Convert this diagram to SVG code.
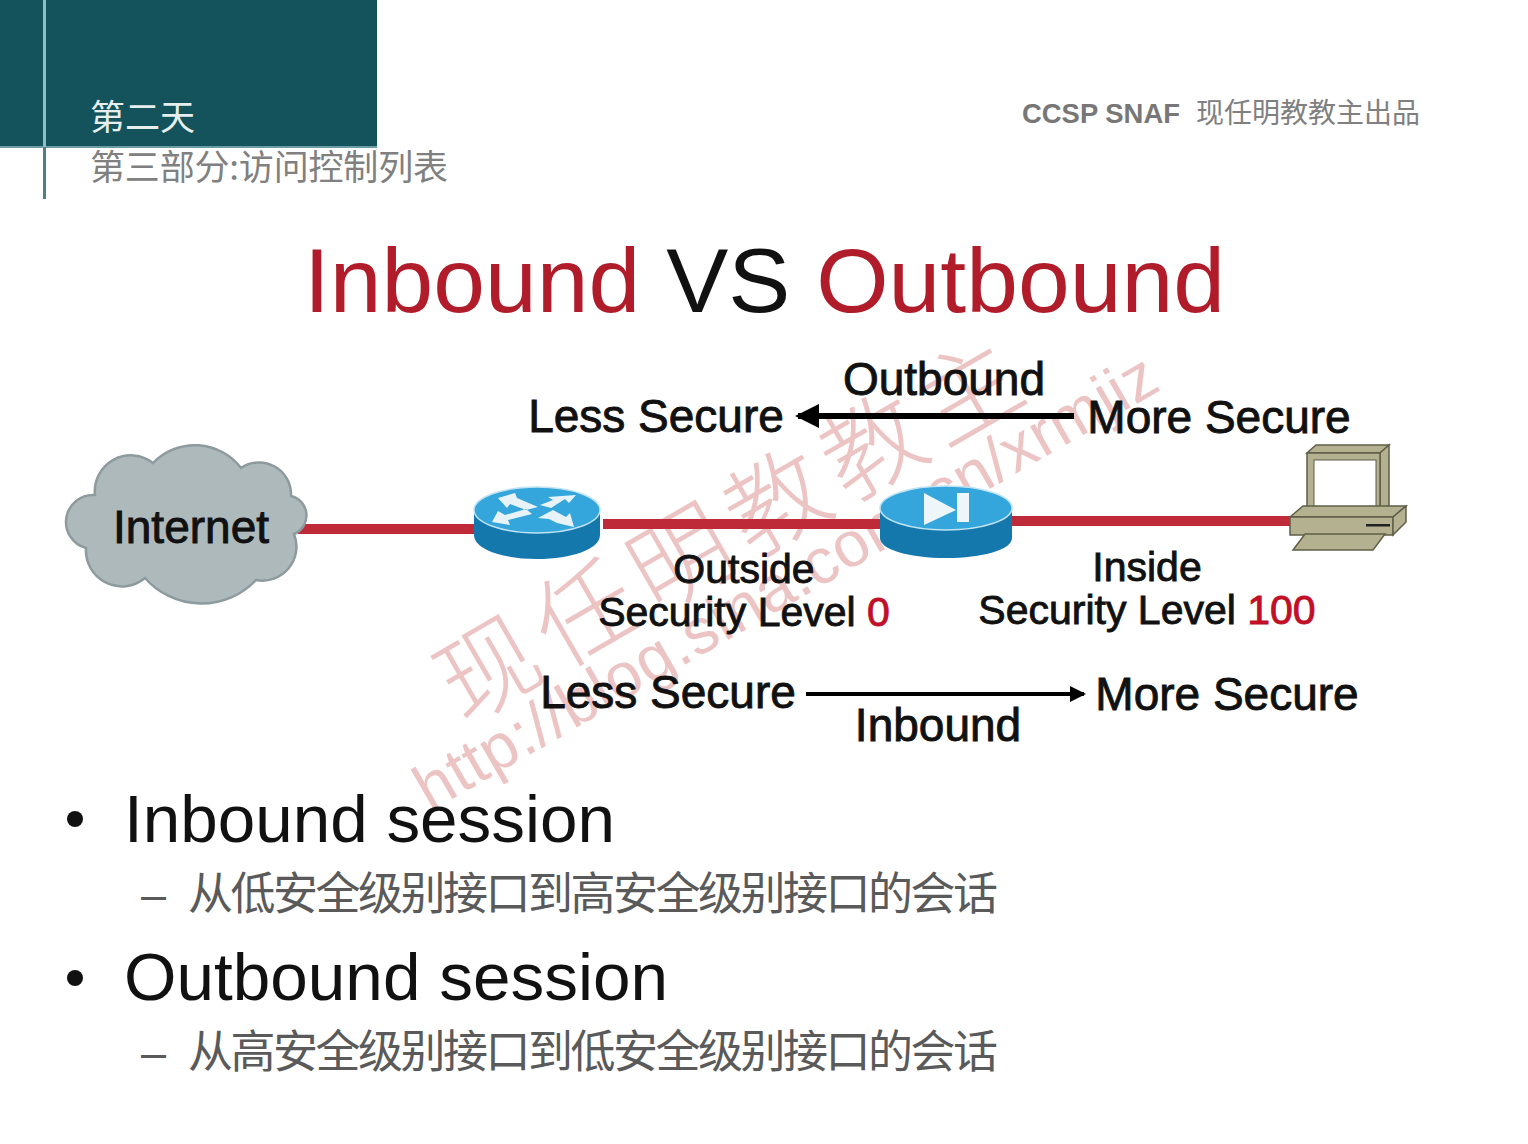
<svg xmlns="http://www.w3.org/2000/svg" width="1528" height="1144" viewBox="0 0 1528 1144">
<defs>
<style>
.s{font-family:"Liberation Sans",Arial,"Noto Sans CJK SC",sans-serif}
.c{font-family:"Noto Sans CJK SC","Liberation Sans",sans-serif}
.l{font-size:46px;fill:#111;stroke:#111;stroke-width:.9px;text-anchor:middle}
.m{font-size:41px}
.h{font-size:67px;fill:#111}
.z{font-size:45px;fill:#5a5a5a;font-weight:400}
.w{fill:#ecc4c4}
.r{fill:#c00f26}
.link{stroke:#be2a38;stroke-width:10;fill:none}
.top{fill:#35a6dc}.side{fill:#1478ad}
.bg{fill:#aeb9bc;stroke:#8d9a9e;stroke-width:2.500}
.pc{fill:#b3b18f;stroke:#5f5f48;stroke-width:1.500}
</style>
<marker id="a" markerWidth="4" markerHeight="4" refX="3.500" refY="2" orient="auto" markerUnits="strokeWidth"><path d="M0 0L4 2L0 4Z" fill="#000"/></marker>
</defs>
<rect width="1528" height="1144" fill="#fff"/>
<g id="header">
<rect x="0" y="0" width="377" height="147" fill="#14535b"/>
<rect x="0" y="146" width="377" height="2" fill="#6b9da3"/>
<line x1="44.500" y1="0" x2="44.500" y2="199" stroke="#8fc0c6" stroke-width="3"/>
<line x1="44.500" y1="147" x2="44.500" y2="199" stroke="#4f7f88" stroke-width="3"/>
<text class="c" x="90" y="130" font-size="35" font-weight="400" fill="#e6eeee">第二天</text>
<text class="c" x="90" y="180" font-size="35" font-weight="400" fill="#808080" textLength="358" lengthAdjust="spacing">第三部分:访问控制列表</text>
<text class="s" x="1022" y="123" font-size="28" font-weight="700" fill="#777" textLength="158" lengthAdjust="spacingAndGlyphs">CCSP SNAF</text>
<text class="c" x="1196" y="123" font-size="28" font-weight="400" fill="#808080" textLength="224">现任明教教主出品</text>
</g>
<g id="watermark">
<text class="c w" font-size="100" font-weight="300" letter-spacing="11" transform="translate(463,725) rotate(-30)">现任明教教主</text>
<text class="s w" font-size="64" transform="translate(430,812) rotate(-30)" textLength="846">http://blog.sina.com.cn/xrmjiz</text>
</g>
<g id="title">
<text class="s" x="304" y="312" font-size="91" fill="#111" textLength="921" lengthAdjust="spacingAndGlyphs"><tspan fill="#b01c2a">Inbound</tspan> VS <tspan fill="#b01c2a">Outbound</tspan></text>
</g>
<g id="connectors">
<line class="link" x1="298" y1="529" x2="476" y2="529"/>
<line class="link" x1="603" y1="524" x2="884" y2="524"/>
<line class="link" x1="1012" y1="521" x2="1296" y2="521"/>
<line x1="1074" y1="416" x2="798" y2="416" stroke="#000" stroke-width="6" marker-end="url(#a)"/>
<line x1="806" y1="694" x2="1084" y2="694" stroke="#000" stroke-width="4" marker-end="url(#a)"/>
</g>
<g id="internet">
<path class="bg" d="M86 548A27 27 0 0 1 95 495A36 36 0 0 1 153 463A58 58 0 0 1 241 468A32 32 0 0 1 291 496A20 20 0 0 1 294 534A34 34 0 0 1 256 580A75 75 0 0 1 145 578A36 36 0 0 1 86 548Z"/>
<text class="s l" x="191" y="543">Internet</text>
</g>
<g id="router">
<path class="side" d="M474 510V535C474 549 502 559 537 559S600 549 600 535V510Z"/>
<ellipse class="top" cx="537" cy="510" rx="63" ry="23" stroke="#bfe3f2" stroke-width="1.500"/>
<path fill="#e8f3f8" d="M498 498L515 493L517 498L538 507L526 510L510 504L507 508Z M576 495L569 503L565 499L551 508L540 505L553 500L548 497Z M492 522L510 525L508 520L532 514L526 509L505 515L498 511Z M574 527L557 523L549 519L538 518L553 510L566 517L570 513Z"/>
</g>
<g id="firewall">
<path class="side" d="M880 508V538C880 550 910 558 946 558S1012 550 1012 538V508Z"/>
<ellipse class="top" cx="946" cy="508" rx="66" ry="22" stroke="#bfe3f2" stroke-width="1.500"/>
<path fill="#eef6f9" d="M924 493V525L956 510Z"/>
<rect x="957" y="493" width="12" height="29" fill="#eef6f9"/>
</g>
<g id="pc">
<path class="pc" d="M1307 453H1380L1389 445H1316Z"/>
<path class="pc" d="M1380 453L1389 445V505L1380 514Z"/>
<rect class="pc" x="1307" y="453" width="73" height="61"/>
<rect x="1314" y="460" width="62" height="47" fill="#fff" stroke="#5f5f48"/>
<path class="pc" d="M1290 517L1303 506H1406L1393 517Z"/>
<rect class="pc" x="1290" y="517" width="103" height="18"/>
<path class="pc" d="M1393 517L1406 506V522L1393 535Z"/>
<rect x="1366" y="524" width="24" height="2.500" fill="#222"/>
<path class="pc" d="M1305 534H1385L1373 550H1293Z"/>
</g>
<g id="labels">
<text class="s l" x="944" y="395">Outbound</text>
<text class="s l" x="656" y="432">Less Secure</text>
<text class="s l" x="1219" y="433">More Secure</text>
<text class="s l m" x="744" y="583">Outside</text>
<text class="s l m" x="744" y="626">Security Level <tspan class="r" stroke="#c00f26">0</tspan></text>
<text class="s l m" x="1147" y="581">Inside</text>
<text class="s l m" x="1147" y="624">Security Level <tspan class="r" stroke="#c00f26">100</tspan></text>
<text class="s l" x="668" y="708">Less Secure</text>
<text class="s l" x="1227" y="710">More Secure</text>
<text class="s l" x="938" y="741">Inbound</text>
</g>
<g id="bullets">
<circle cx="75" cy="819" r="8" fill="#111"/>
<text class="s h" x="124" y="842" textLength="491" lengthAdjust="spacingAndGlyphs">Inbound session</text>
<text class="s z" x="141" y="910">–</text>
<text class="c z" x="188" y="910" textLength="810">从低安全级别接口到高安全级别接口的会话</text>
<circle cx="75" cy="978" r="8" fill="#111"/>
<text class="s h" x="124" y="1000" textLength="544" lengthAdjust="spacingAndGlyphs">Outbound session</text>
<text class="s z" x="141" y="1068">–</text>
<text class="c z" x="188" y="1068" textLength="810">从高安全级别接口到低安全级别接口的会话</text>
</g>
</svg>
